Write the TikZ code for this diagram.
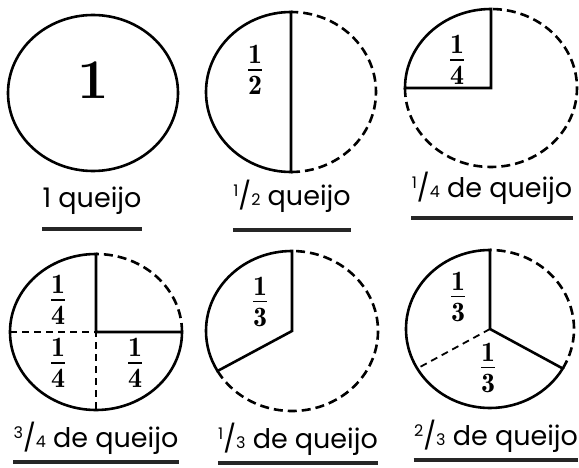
\documentclass[tikz,border=0pt]{standalone}
\usepackage{amsmath}
\usepackage{fontspec}
\usepackage{tikz}
\usetikzlibrary{calc}

\newfontfamily\queijofont{Poppins}
\newcommand\qfrac[2]{\raisebox{0.55ex}{\footnotesize #1}/{\footnotesize #2}}

\begin{document}
\begin{tikzpicture}[x=0.5pt, y=0.5pt,
	rind/.style={line width=1.3pt, line cap=round},
	cut/.style={line width=1.3pt, dash pattern=on 4.5pt off 2.5pt},
	thincut/.style={line width=0.9pt, dash pattern=on 3.5pt off 2.5pt},
	frac/.style={font=\fontsize{20}{22}\selectfont, inner sep=0pt},
	label/.style={font=\queijofont\fontsize{13.5}{16}\selectfont, anchor=base, inner sep=0pt},
	bar/.style={line width=2pt, black!85}]
	
	\useasboundingbox (0,0) rectangle (579,467);
	
	% Centres
	\coordinate (c1) at (93,374);
	\coordinate (c2) at (291,375);
	\coordinate (c3) at (491,379);
	\coordinate (c4) at (96,135);
	\coordinate (c5) at (292,136);
	\coordinate (c6) at (490,138);
	
	% 1 queijo
	\draw[rind] (c1) ellipse[x radius=85, y radius=78];
	\node[font=\fontsize{28}{30}\selectfont\bfseries, inner sep=0pt] (one) at (93,387) {1};
	
	% 1/2 queijo
	\begin{scope}[shift={(c2)}]
		\draw[rind] (90:85 and 80) arc[start angle=90, end angle=270, x radius=85, y radius=80] -- cycle;
		\draw[cut] (-90:85 and 80) arc[start angle=-90, end angle=90, x radius=85, y radius=80];
	\end{scope}
	\node[frac] (half) at (255,397) {$\frac{\mathbf{1}}{\mathbf{2}}$};
	
	% 1/4 queijo
	\begin{scope}[shift={(c3)}]
		\draw[rind] (0,0) -- (90:86 and 79) arc[start angle=90, end angle=180, x radius=86, y radius=79] -- cycle;
		\draw[cut] (180:86 and 79) arc[start angle=180, end angle=450, x radius=86, y radius=79];
	\end{scope}
	\node[frac] (quarter) at (457,407) {$\frac{\mathbf{1}}{\mathbf{4}}$};
	
	% 3/4 queijo
	\begin{scope}[shift={(c4)}]
		\draw[rind] (0:86 and 78) -- (0,0) -- (90:86 and 78) arc[start angle=90, end angle=360, x radius=86, y radius=78];
		\draw[cut] (0:86 and 78) arc[start angle=0, end angle=90, x radius=86, y radius=78];
		\draw[thincut] (180:86 and 78) -- (0,0) -- (270:86 and 78);
	\end{scope}
	\foreach \px/\py/\nm in {58/167/qa, 58/104/qb, 135/104/qc}
		\node[frac] (\nm) at (\px,\py) {$\frac{\mathbf{1}}{\mathbf{4}}$};
	
	% 1/3 queijo
	\begin{scope}[shift={(c5)}]
		\draw[rind] (0,0) -- (90:86 and 80) arc[start angle=90, end angle=210, x radius=86, y radius=80] -- cycle;
		\draw[cut] (210:86 and 80) arc[start angle=210, end angle=450, x radius=86, y radius=80];
	\end{scope}
	\node[frac] (third) at (260,165) {$\frac{\mathbf{1}}{\mathbf{3}}$};
	
	% 2/3 queijo
	\begin{scope}[shift={(c6)}]
		\draw[rind] (0,0) -- (90:84 and 79) arc[start angle=90, end angle=330, x radius=84, y radius=79] -- cycle;
		\draw[cut] (330:84 and 79) arc[start angle=330, end angle=450, x radius=84, y radius=79];
		\draw[thincut] (0,0) -- (210:84 and 79);
	\end{scope}
	\node[frac] (thirdA) at (458,170) {$\frac{\mathbf{1}}{\mathbf{3}}$};
	\node[frac] (thirdB) at (488,99) {$\frac{\mathbf{1}}{\mathbf{3}}$};
	
	% Labels
	\node[label] (l1) at (92,259) {1 queijo};
	\node[label] (l2) at (292,262) {\qfrac{1}{2} queijo};
	\node[label] (l3) at (492,270) {\qfrac{1}{4} de queijo};
	\node[label] (l4) at (96,20) {\qfrac{3}{4} de queijo};
	\node[label] (l5) at (298,19) {\qfrac{1}{3} de queijo};
	\node[label] (l6) at (496,22) {\qfrac{2}{3} de queijo};
	
	% Underlines
	\draw[bar] ($(l1.base west)+(0,-21)$) -- ($(l1.base east)+(0,-21)$);
	\draw[bar] ($(l2.base west)+(0,-25)$) -- ($(l2.base east)+(0,-25)$);
	\draw[bar] ($(l3.base west)+(0,-21)$) -- ($(l3.base east)+(0,-21)$);
	\foreach \nm in {l4,l5,l6}
		\draw[bar] ($(\nm.base west)+(0,-15)$) -- ($(\nm.base east)+(0,-15)$);
	
\end{tikzpicture}
\end{document}
